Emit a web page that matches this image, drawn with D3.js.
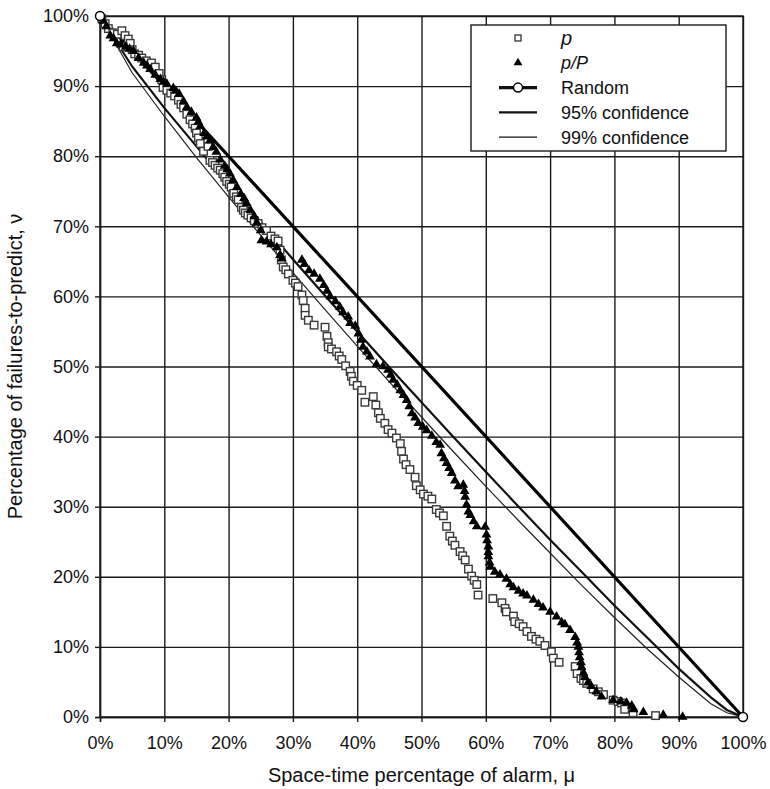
<!DOCTYPE html>
<html>
<head>
<meta charset="utf-8">
<script src="https://cdn.jsdelivr.net/npm/d3@7"></script>
<style>
  html, body { margin: 0; padding: 0; background: #fff; }
  svg { display: block; }
  text { font-family: "Liberation Sans", Arial, Helvetica, sans-serif; fill: #111; }
</style>
</head>
<body>
<svg id="chart" width="770" height="789"></svg>
<script>
// ---------- data (percent) ----------
const tickValues = [0, 10, 20, 30, 40, 50, 60, 70, 80, 90, 100];

// Random guess line
const randomAlarm = [0, 100];
const randomFail  = [100, 0];

// Confidence lines (alarm %, failures %)
const confAlarm = [0, 5, 10, 15, 20, 25, 30, 35, 40, 45, 50, 55, 60, 65, 70, 75, 80, 85, 90, 95, 97.5, 100];
const conf95    = [100, 92.8, 86.9, 81.4, 75.9, 70.6, 65.3, 60.1, 55.0, 49.9, 44.9, 39.9, 35.0, 30.1, 25.3, 20.6, 15.9, 11.4, 6.9, 2.8, 1.0, 0];
const conf99    = [100, 91.9, 85.7, 79.8, 74.2, 68.7, 63.4, 58.1, 52.9, 47.8, 42.8, 37.8, 32.9, 28.1, 23.4, 18.7, 14.2, 9.8, 5.7, 1.9, 0.6, 0];

// Series "p" (hollow squares)
const pAlarm = [0.3,0.8,1.3,2.0,2.7,3.4,3.9,4.4,4.7,3.6,5.0,5.4,6.0,6.5,7.2,8.0,8.6,9.2,9.6,9.8,10.4,11.0,11.6,12.2,12.6,13.0,13.5,14.0,14.4,14.8,15.0,15.3,15.6,16.1,16.8,17.1,17.5,17.9,18.3,18.7,19.1,19.4,19.7,20.1,20.4,20.8,21.2,21.5,22.0,22.3,22.6,23.0,23.5,24.0,24.6,25.2,25.9,26.6,27.2,27.7,28.0,28.2,28.5,28.9,29.3,30.0,30.4,30.8,31.4,31.6,31.9,31.9,32.4,33.3,35.0,35.3,35.5,35.5,36.0,36.8,37.2,37.6,38.2,38.9,39.1,39.4,40.0,40.7,41.2,42.5,42.9,43.3,43.6,44.3,44.8,45.4,46.1,46.7,46.9,47.2,47.6,48.2,49.0,49.2,49.8,50.3,51.0,51.6,52.3,52.8,53.4,53.9,54.4,54.8,55.2,56.0,56.4,56.8,57.3,57.8,58.2,58.6,58.8,61.1,62.5,63.0,63.2,64.3,64.5,65.2,65.8,66.4,67.1,67.8,68.4,69.2,70.2,70.5,71.4,73.9,74.2,74.8,75.2,75.7,76.7,77.5,78.3,79.8,80.6,81.1,81.6,82.9,86.4];
const pFail  = [99.6,98.9,98.2,97.6,97.4,97.9,97.2,96.7,96.1,95.6,95.2,94.6,94.4,94.0,93.6,93.3,92.7,91.8,90.9,89.8,89.4,89.0,88.6,88.0,87.4,86.9,86.0,85.2,84.6,84.0,83.3,82.6,81.8,80.7,81.4,79.4,79.1,78.7,78.3,78.0,77.5,77.0,76.4,76.0,75.6,74.7,74.2,73.8,72.7,72.3,71.9,71.6,71.2,70.8,70.4,69.8,69.4,68.6,68.2,67.9,66.6,65.2,64.2,63.8,63.2,62.3,61.9,61.4,60.2,59.4,58.3,57.3,56.6,55.9,55.6,54.3,53.4,52.8,52.5,52.1,51.5,51.0,50.1,49.3,48.6,47.9,47.3,46.6,44.9,45.7,44.5,43.4,42.6,41.9,41.0,40.5,39.8,39.0,37.9,36.8,36.0,35.3,34.2,33.0,32.4,31.8,31.5,31.1,29.6,29.1,28.7,27.2,25.8,25.1,24.5,23.6,23.0,22.4,21.1,20.1,19.5,18.9,17.4,16.9,16.3,15.5,15.0,14.4,13.6,13.3,12.9,12.2,11.5,11.1,10.8,10.2,9.3,8.4,7.8,7.2,6.2,5.5,5.2,4.8,4.0,3.6,3.2,2.4,2.2,2.0,1.1,0.6,0.2];

// Series "p/P" (filled triangles)
const ppAlarm = [0.5,1.0,1.6,2.1,2.6,3.2,4.0,4.6,5.2,6.0,6.8,7.3,7.8,8.6,9.4,9.9,10.4,11.4,11.8,12.3,13.0,13.5,14.2,15.0,15.3,15.6,16.2,16.6,17.1,17.6,18.1,18.7,19.4,19.8,20.2,20.7,21.3,21.9,22.4,22.8,23.4,24.0,24.4,25.0,25.1,25.9,26.6,27.5,28.0,28.3,31.4,31.8,32.5,33.3,34.2,34.8,35.3,35.8,36.6,37.3,37.8,38.6,38.9,39.7,40.2,40.6,40.9,41.5,42.0,43.0,44.0,44.8,45.2,45.6,46.2,46.7,47.2,47.7,48.1,48.5,49.0,49.5,50.2,50.8,51.6,52.3,52.9,53.1,53.5,53.9,54.3,54.7,55.2,55.7,56.5,56.7,56.8,57.0,57.3,57.6,58.1,58.6,59.9,60.1,60.2,60.4,60.4,60.4,60.6,60.7,61.4,62.2,63.2,63.8,64.3,65.1,65.8,66.4,67.4,68.2,68.9,70.0,71.0,71.8,72.3,73.1,73.9,74.2,74.4,74.5,74.6,74.8,74.9,75.2,75.4,75.9,76.4,77.2,78.0,79.8,81.0,81.9,82.7,83.0,84.5,87.6,90.6];
const ppFail  = [99.3,98.5,97.2,96.8,96.1,95.9,95.6,95.3,95.0,94.0,93.3,92.9,92.4,91.6,91.0,90.6,90.3,89.7,89.3,88.9,87.8,87.0,86.3,85.5,84.9,84.3,83.3,82.8,82.2,81.3,80.6,79.5,78.6,78.1,77.5,76.6,75.6,74.6,74.0,73.3,72.3,71.4,70.5,69.4,68.0,67.8,67.4,67.0,65.9,65.4,65.2,64.6,63.7,63.2,62.5,61.6,60.8,60.0,59.3,58.5,57.7,57.1,56.2,55.8,54.7,53.8,52.8,52.1,51.4,50.3,50.0,49.5,48.8,48.1,47.4,46.6,45.9,45.2,44.3,43.3,42.7,41.9,41.4,40.9,40.1,39.2,38.8,37.6,36.9,36.2,35.5,34.8,33.7,32.9,33.1,32.2,31.4,30.3,29.3,28.8,27.9,27.2,27.1,26.0,25.2,24.3,23.5,22.9,22.0,21.4,20.7,20.3,19.7,18.9,18.5,18.0,17.6,17.3,16.7,16.1,15.6,15.0,14.3,13.5,13.2,12.4,11.4,10.6,10.0,9.2,8.5,7.8,7.1,6.3,5.7,4.9,4.4,3.6,2.9,2.4,2.2,2.0,1.6,1.1,0.7,0.3,0.0];

const legendLabels = ["p", "p/P", "Random", "95% confidence", "99% confidence"];

// ---------- layout ----------
const svg = d3.select("#chart");
const L = 100, R = 743, T = 16, B = 717;
const x = d3.scaleLinear().domain([0, 100]).range([L, R]);
const y = d3.scaleLinear().domain([0, 100]).range([B, T]);
const fmt = d => d + "%";

// grid
const grid = svg.append("g");
grid.append("g").attr("transform", `translate(0,${B})`)
  .call(d3.axisBottom(x).tickValues(tickValues).tickSize(-(B - T)).tickFormat(""))
  .call(g => g.select(".domain").remove())
  .call(g => g.selectAll("line").attr("stroke", "#1a1a1a").attr("stroke-width", 1.4));
grid.append("g").attr("transform", `translate(${L},0)`)
  .call(d3.axisLeft(y).tickValues(tickValues).tickSize(-(R - L)).tickFormat(""))
  .call(g => g.select(".domain").remove())
  .call(g => g.selectAll("line").attr("stroke", "#1a1a1a").attr("stroke-width", 1.4));

// axes with ticks + labels
const xAxis = svg.append("g").attr("transform", `translate(0,${B})`)
  .call(d3.axisBottom(x).tickValues(tickValues).tickSize(5).tickPadding(14).tickFormat(fmt));
const yAxis = svg.append("g").attr("transform", `translate(${L},0)`)
  .call(d3.axisLeft(y).tickValues(tickValues).tickSize(5).tickPadding(6).tickFormat(fmt));
[xAxis, yAxis].forEach(a => {
  a.select(".domain").attr("stroke", "#1a1a1a").attr("stroke-width", 1.4);
  a.selectAll("line").attr("stroke", "#1a1a1a").attr("stroke-width", 1.4);
  a.selectAll("text").attr("font-size", 18).attr("fill", "#111")
    .attr("font-family", "Liberation Sans, Arial, sans-serif");
});

// frame
svg.append("rect").attr("x", L).attr("y", T).attr("width", R - L).attr("height", B - T)
  .attr("fill", "none").attr("stroke", "#1a1a1a").attr("stroke-width", 1.4);

// axis titles
svg.append("text").attr("x", (L + R) / 2).attr("y", 782).attr("text-anchor", "middle")
  .attr("font-size", 20).text("Space-time percentage of alarm, \u03bc");
svg.append("text").attr("transform", `translate(22,${(T + B) / 2}) rotate(-90)`)
  .attr("text-anchor", "middle").attr("font-size", 20)
  .text("Percentage of failures-to-predict, \u03bd");

// lines
const line = d3.line().x(d => x(d[0])).y(d => y(d[1]));
const plot = svg.append("g");
plot.append("path").datum(d3.zip(confAlarm, conf99)).attr("d", line)
  .attr("fill", "none").attr("stroke", "#222").attr("stroke-width", 1.2);
plot.append("path").datum(d3.zip(confAlarm, conf95)).attr("d", line)
  .attr("fill", "none").attr("stroke", "#111").attr("stroke-width", 2.2);
plot.append("path").datum(d3.zip(randomAlarm, randomFail)).attr("d", line)
  .attr("fill", "none").attr("stroke", "#000").attr("stroke-width", 3.2);

// squares (p)
const sq = 7.5;
plot.append("g").selectAll("rect").data(d3.zip(pAlarm, pFail)).join("rect")
  .attr("x", d => x(d[0]) - sq / 2).attr("y", d => y(d[1]) - sq / 2)
  .attr("width", sq).attr("height", sq)
  .attr("fill", "#fff").attr("stroke", "#3a3a3a").attr("stroke-width", 1.4);

// triangles (p/P)
const tri = d3.symbol().type(d3.symbolTriangle).size(42);
plot.append("g").selectAll("path").data(d3.zip(ppAlarm, ppFail)).join("path")
  .attr("transform", d => `translate(${x(d[0])},${y(d[1])})`)
  .attr("d", tri).attr("fill", "#000");

// random end markers
plot.append("g").selectAll("circle").data(d3.zip(randomAlarm, randomFail)).join("circle")
  .attr("cx", d => x(d[0])).attr("cy", d => y(d[1])).attr("r", 4.5)
  .attr("fill", "#fff").attr("stroke", "#000").attr("stroke-width", 1.5);

// legend
const lg = svg.append("g");
lg.append("rect").attr("x", 471).attr("y", 25).attr("width", 255).attr("height", 126)
  .attr("fill", "#fff").attr("stroke", "#1a1a1a").attr("stroke-width", 1.4);
const rowY = i => 38 + i * 24.8;
const sx = 518, tx = 561;
const triL = d3.symbol().type(d3.symbolTriangle).size(34);
legendLabels.forEach((lab, i) => {
  const yy = rowY(i);
  if (i === 0) {
    lg.append("rect").attr("x", sx - 3).attr("y", yy - 3).attr("width", 6).attr("height", 6)
      .attr("fill", "#fff").attr("stroke", "#333").attr("stroke-width", 1.3);
  } else if (i === 1) {
    lg.append("path").attr("transform", `translate(${sx},${yy})`).attr("d", triL).attr("fill", "#000");
  } else {
    const sw = i === 2 ? 3.2 : (i === 3 ? 2.2 : 1.2);
    lg.append("line").attr("x1", 499).attr("x2", 537).attr("y1", yy).attr("y2", yy)
      .attr("stroke", "#111").attr("stroke-width", sw);
    if (i === 2) lg.append("circle").attr("cx", sx).attr("cy", yy).attr("r", 4.5)
      .attr("fill", "#fff").attr("stroke", "#000").attr("stroke-width", 1.5);
  }
  const t = lg.append("text").attr("x", tx).attr("y", yy).attr("dy", "0.35em")
    .attr("font-size", 18).text(lab);
  if (i === 0) t.attr("font-family", "Liberation Serif, serif").attr("font-style", "italic").attr("font-size", 20);
  if (i === 1) t.attr("font-style", "italic");
});
</script>
</body>
</html>
